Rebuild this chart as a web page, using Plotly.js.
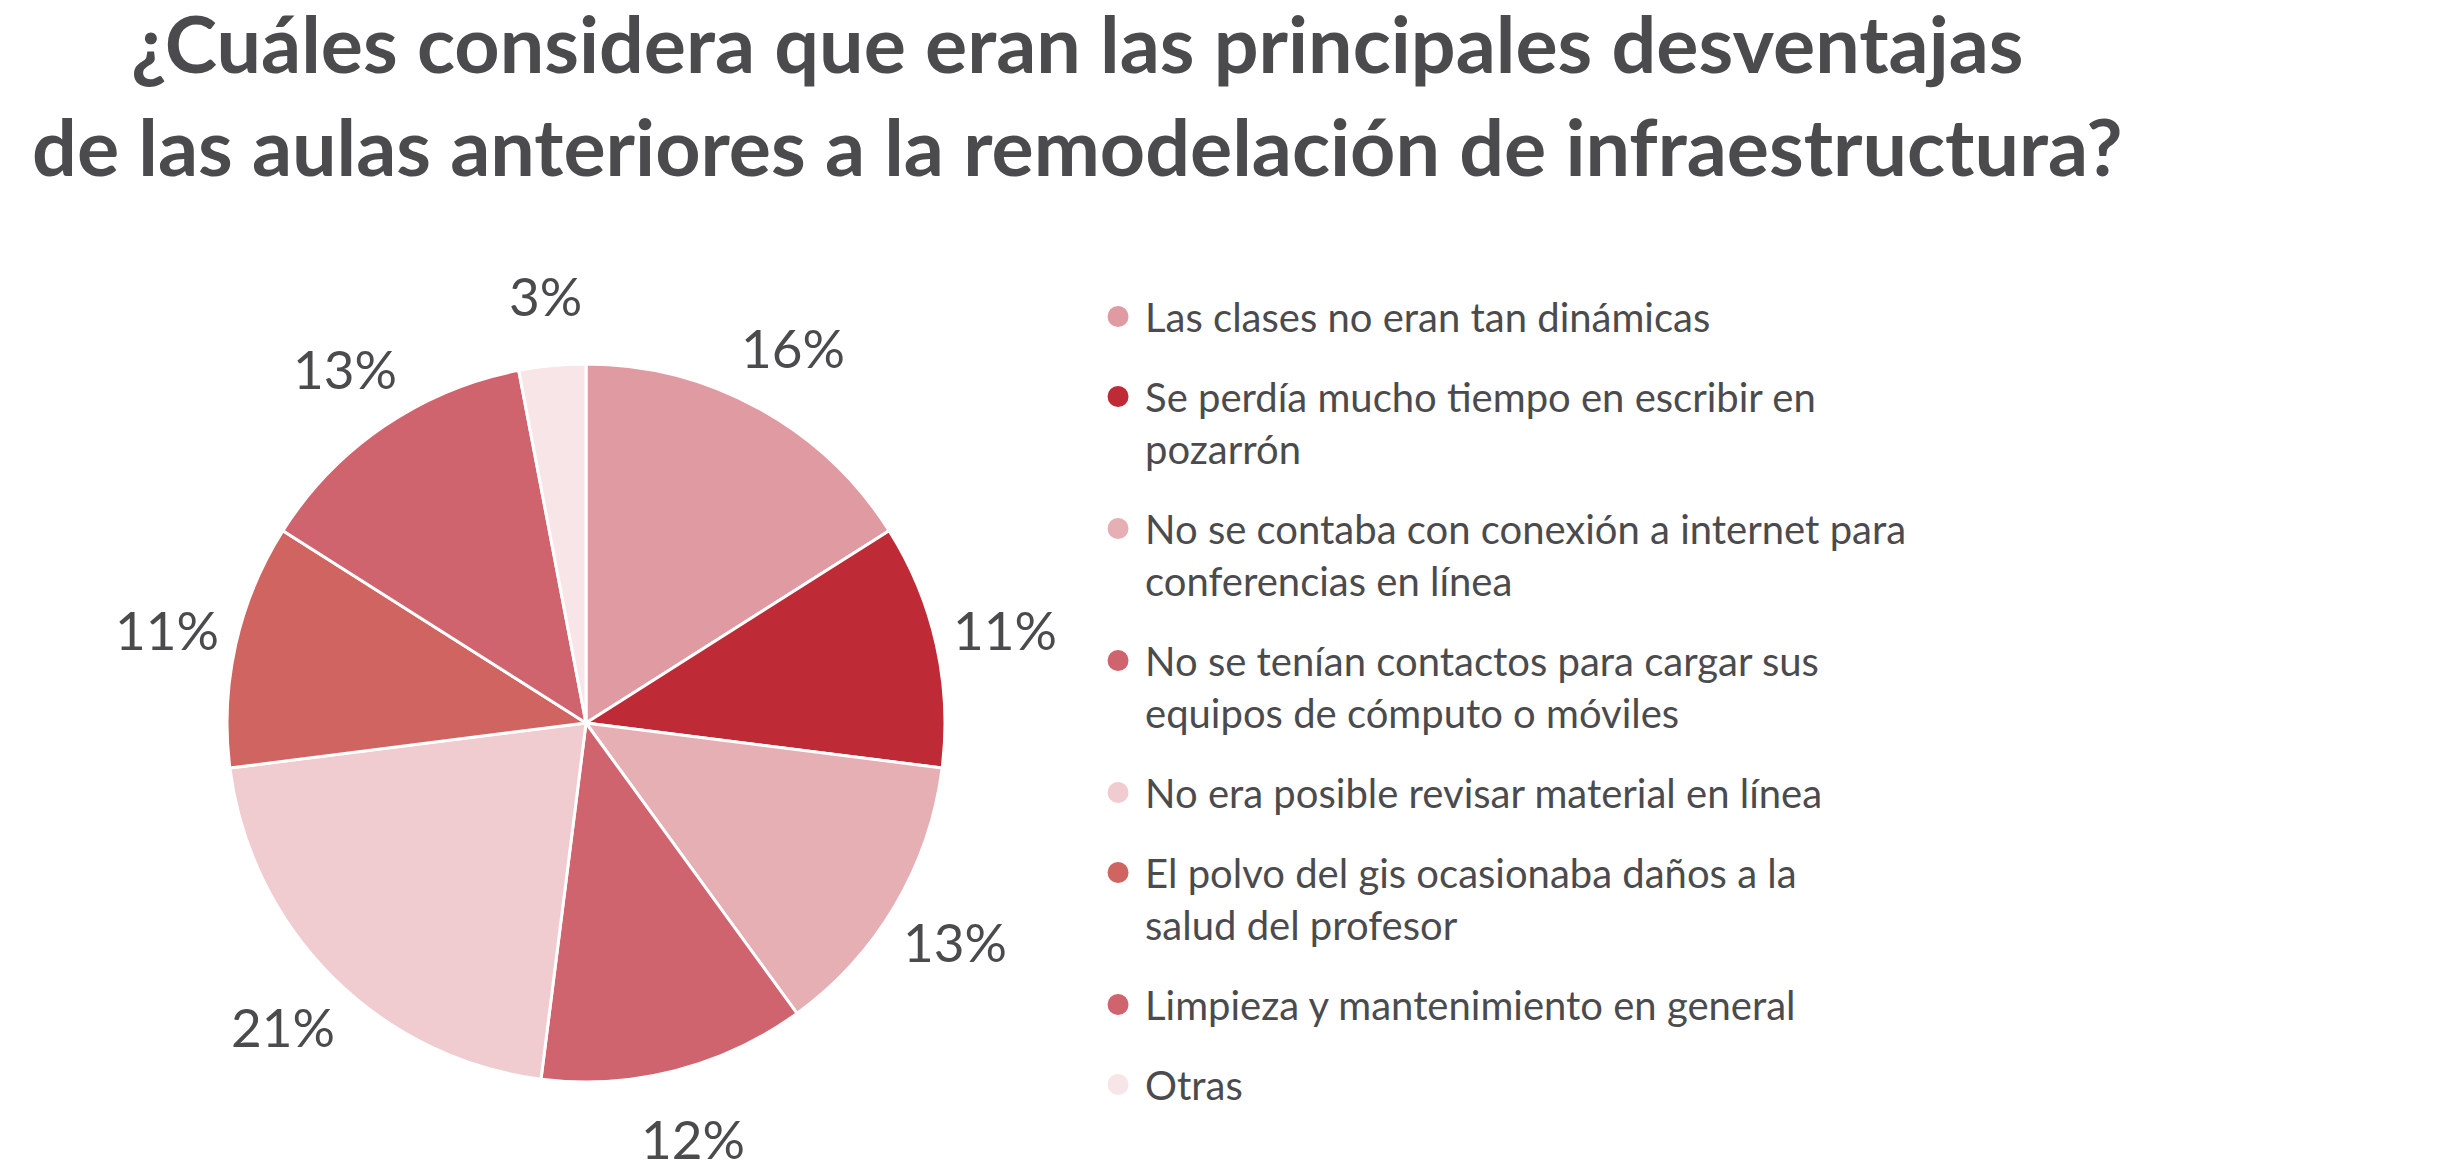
<!DOCTYPE html>
<html>
<head>
<meta charset="utf-8">
<script src="https://cdn.plot.ly/plotly-3.0.1.min.js"></script>
<style>html,body{margin:0;padding:0;background:#fff;}</style>
</head>
<body>
<div id="chart" style="width:2454px;height:1173px;"></div>
<script>
// ---- Data ----
const categories = [
  "Las clases no eran tan dinámicas",
  "Se perdía mucho tiempo en escribir en pozarrón",
  "No se contaba con conexión a internet para conferencias en línea",
  "No se tenían contactos para cargar sus equipos de cómputo o móviles",
  "No era posible revisar material en línea",
  "El polvo del gis ocasionaba daños a la salud del profesor",
  "Limpieza y mantenimiento en general",
  "Otras"
];
const percentages = [16, 11, 13, 12, 21, 11, 13, 3];
const sliceColors = ["#E09BA2", "#BE2A36", "#E6AFB4", "#CF646E", "#F0CBD0", "#CF6460", "#CF646E", "#F7E5E8"];
const titleText = "¿Cuáles considera que eran las principales desventajas<br>de las aulas anteriores a la remodelación de infraestructura?";

// wrap legend text to ~42 characters per line
function wrap(s, n) {
  const words = s.split(" ");
  const lines = [];
  let cur = "";
  words.forEach(w => {
    if ((cur + " " + w).trim().length > n) { lines.push(cur); cur = w; }
    else { cur = (cur + " " + w).trim(); }
  });
  if (cur) lines.push(cur);
  return lines.join("<br>");
}

const W = 2454, H = 1173;
const textColor = "#4B4B4D";
const pieDomain = { x: [0.09251, 0.38508], y: [0.07758, 0.68969] };

const traces = [{
  type: "pie",
  labels: categories,
  values: percentages,
  sort: false,
  direction: "clockwise",
  rotation: 0,
  marker: { colors: sliceColors, line: { color: "#FFFFFF", width: 3 } },
  textinfo: "none",
  showlegend: false,
  hoverinfo: "label+percent",
  domain: pieDomain
}];

// legend entries (circle markers)
categories.forEach((c, i) => {
  traces.push({
    type: "scatter",
    mode: "markers",
    x: [null], y: [null],
    name: wrap(c, 42),
    legendgroup: "g" + i,
    marker: { symbol: "circle", size: 16, color: sliceColors[i], line: { color: sliceColors[i], width: 5 } },
    hoverinfo: "skip",
    showlegend: true
  });
});

// percentage labels placed on each slice's mid-angle, outside the pie
const cxPx = (pieDomain.x[0] + pieDomain.x[1]) / 2 * W;
const cyPx = (1 - (pieDomain.y[0] + pieDomain.y[1]) / 2) * H;
const rPx = Math.min((pieDomain.x[1] - pieDomain.x[0]) * W, (pieDomain.y[1] - pieDomain.y[0]) * H) / 2;
const total = percentages.reduce((a, b) => a + b, 0);
let cum = 0;
const annotations = percentages.map(v => {
  const mid = (cum + v / 2) / total * 2 * Math.PI;
  cum += v;
  const d = rPx * 1.195;
  const px = cxPx + d * Math.sin(mid);
  const py = cyPx - d * Math.cos(mid);
  return {
    xref: "paper", yref: "paper",
    x: px / W, y: 1 - py / H,
    xanchor: "center", yanchor: "middle",
    text: v + "%",
    showarrow: false,
    font: { family: "Lato, sans-serif", size: 53, color: textColor }
  };
});

const layout = {
  width: W,
  height: H,
  margin: { l: 0, r: 0, t: 0, b: 0 },
  paper_bgcolor: "#FFFFFF",
  plot_bgcolor: "#FFFFFF",
  title: {
    text: titleText,
    font: { family: "Lato, sans-serif", size: 79, color: textColor, weight: "bold" },
    x: 0.439, xanchor: "center", xref: "paper",
    y: 1 - 73 / 1173, yanchor: "top", yref: "container"
  },
  xaxis: { visible: false, domain: [0.9, 0.91] },
  yaxis: { visible: false, domain: [0.9, 0.91] },
  legend: {
    x: 0.4446, xanchor: "left",
    y: 0.7579, yanchor: "top",
    traceorder: "grouped",
    tracegroupgap: 25,
    itemwidth: 44,
    valign: "top",
    font: { family: "Lato, sans-serif", size: 40, color: textColor },
    bgcolor: "rgba(0,0,0,0)",
    borderwidth: 0
  },
  annotations: annotations,
  showlegend: true
};

Plotly.newPlot("chart", traces, layout, { displayModeBar: false, staticPlot: true });
</script>
</body>
</html>
